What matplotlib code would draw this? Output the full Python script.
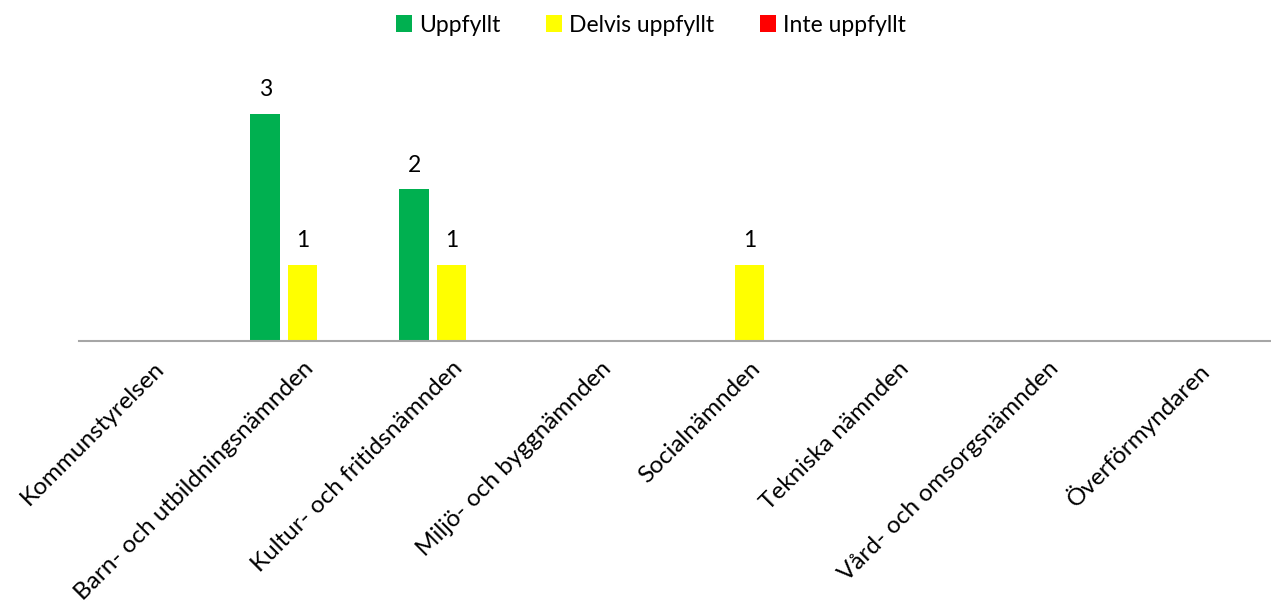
import matplotlib.pyplot as plt
import numpy as np

categories = ['Kommunstyrelsen', 'Barn- och utbildningsnämnden', 'Kultur- och fritidsnämnden',
              'Miljö- och byggnämnden', 'Socialnämnden', 'Tekniska nämnden',
              'Vård- och omsorgsnämnden', 'Överförmyndaren']
series = ['Uppfyllt', 'Delvis uppfyllt', 'Inte uppfyllt']
uppfyllt = [0, 3, 2, 0, 0, 0, 0, 0]
delvis = [0, 1, 1, 0, 1, 0, 0, 0]
inte = [0, 0, 0, 0, 0, 0, 0, 0]
colors = ['#00b050', '#ffff00', '#ff0000']

plt.rcParams['font.family'] = ['Lato', 'DejaVu Sans']

fig = plt.figure(figsize=(12.71, 6.10), dpi=100)
W, H = 1271, 610
ax = fig.add_axes([79 / W, 1 - 341 / H, (1271 - 79) / W, (341 - 60) / H])

x = np.arange(len(categories))
for i, (name, vals) in enumerate(zip(series, [uppfyllt, delvis, inte])):
    bars = ax.bar(x + (i - 1) * 0.25, vals, width=0.2, color=colors[i], label=name)
    for b, v in zip(bars, vals):
        if v > 0:
            ax.annotate(str(v), (b.get_x() + b.get_width() / 2, v), xytext=(0, 10),
                        textcoords='offset points', ha='center', va='bottom', fontsize=16.5)

ax.set_xlim(-0.5, len(categories) - 0.5)
ax.set_ylim(0, 281 / 75.8)
for s in ['top', 'right', 'left']:
    ax.spines[s].set_visible(False)
ax.spines['bottom'].set_color('#a6a6a6')
ax.spines['bottom'].set_linewidth(1.5)
ax.set_yticks([])
ax.set_xticks(x)
ax.set_xticklabels(categories, rotation=45, ha='right', va='top', rotation_mode='anchor', fontsize=17.5)
ax.tick_params(axis='x', length=0, pad=12)

fig.legend(loc='upper center', bbox_to_anchor=(0.512, 1.01), ncol=3, frameon=False, fontsize=16.5,
           handlelength=0.7, handleheight=0.7, handletextpad=0.3, columnspacing=2.0)

fig.savefig('out.png', dpi=100)
